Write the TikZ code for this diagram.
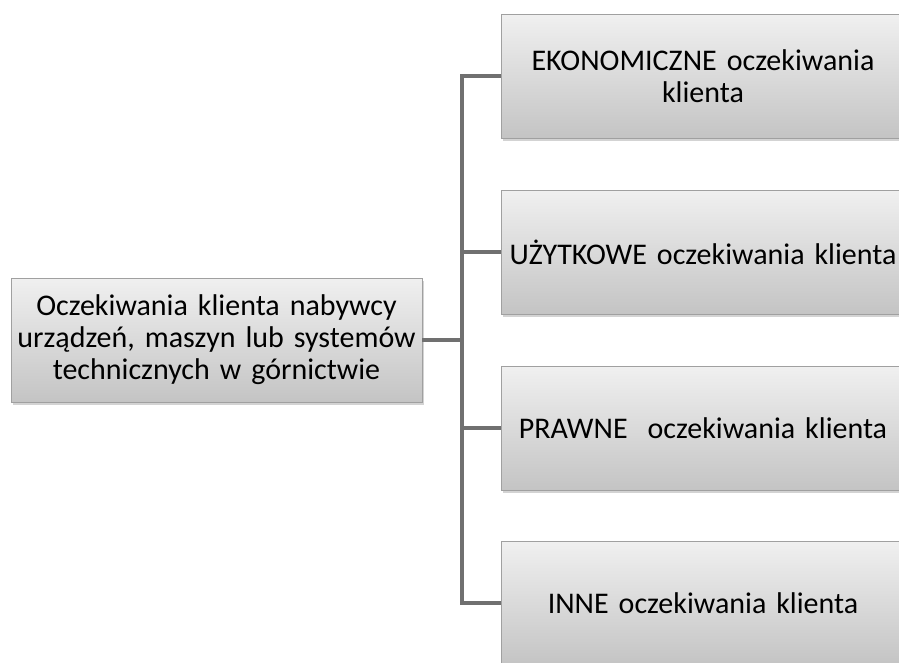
\documentclass[tikz,border=0pt]{standalone}
\usepackage{fontspec}
\setmainfont{Carlito}
\usepackage{tikz}
\usetikzlibrary{arrows.meta,positioning,calc,shadows}
\usepackage{xcolor}
\definecolor{boxtop}{RGB}{240,240,240}
\definecolor{boxbot}{RGB}{196,196,196}
\definecolor{boxedge}{RGB}{160,160,160}
\definecolor{linkcolor}{RGB}{112,112,112}

\begin{document}
\begin{tikzpicture}[x=1pt, y=-1pt]
  % Style
  \tikzset{
    box/.style={rectangle,draw=boxedge,line width=0.8pt,top color=boxtop,bottom color=boxbot,
      minimum height=124pt,inner sep=0pt,align=center,text=black,
      font=\fontsize{30}{32}\selectfont,
      drop shadow={shadow xshift=2pt,shadow yshift=-3pt,opacity=0.35}},
    mainbox/.style={box,minimum width=411pt,text width=400pt},
    subbox/.style={box,minimum width=404pt,text width=390pt},
    link/.style={draw=linkcolor,line width=3.2pt}
  }

  \useasboundingbox (0,0) rectangle (899,662);

  %================= LEWA STRONA =================
  \node[mainbox] (O-main) at (216.5,340)
    {Oczekiwania klienta nabywcy\\urządzeń, maszyn lub systemów\\technicznych w górnictwie};

  %================= PRAWA STRONA =================
  \node[subbox] (O-eko)  at (703,76)  {EKONOMICZNE oczekiwania\\klienta};
  \node[subbox] (O-uzyt) at (703,252) {UŻYTKOWE oczekiwania klienta};
  \node[subbox] (O-praw) at (703,428) {PRAWNE\ \ oczekiwania klienta};
  \node[subbox] (O-inne) at (703,603) {INNE oczekiwania klienta};

  % Pień i gałęzie
  \coordinate (pien) at (462,340);
  \draw[link] (O-main.east) -- (pien);
  \foreach \n in {eko,uzyt,praw,inne}
    \draw[link] (pien) |- (O-\n.west);

\end{tikzpicture}
\end{document}
